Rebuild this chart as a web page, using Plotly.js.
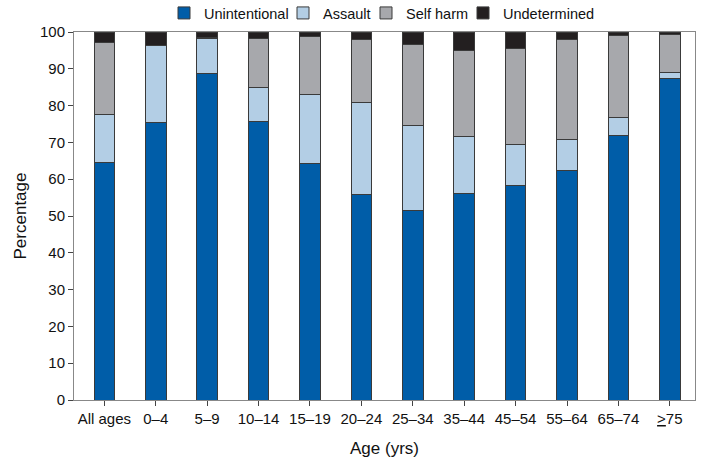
<!DOCTYPE html>
<html>
<head>
<meta charset="utf-8">
<script src="https://cdn.plot.ly/plotly-3.0.1.min.js"></script>
<style>html,body{margin:0;padding:0;background:#fff;}#chart{width:704px;height:459px;}</style>
</head>
<body>
<div id="chart"></div>
<script>
const categories = ["All ages","0–4","5–9","10–14","15–19","20–24","25–34","35–44","45–54","55–64","65–74","<u>></u>75"];
const unintentional = [64.5, 75.5, 88.8, 75.7, 64.3, 55.9, 51.5, 56.0, 58.3, 62.4, 71.8, 87.5];
const assault       = [13.2, 20.7,  9.4,  9.2, 18.7, 24.9, 23.2, 15.5, 11.1,  8.5,  4.9,  1.5];
const selfHarm      = [19.5,  0.0,  0.3, 13.3, 15.7, 17.1, 22.0, 23.4, 26.1, 27.1, 22.3, 10.4];
const undetermined  = [ 2.8,  3.8,  1.5,  1.8,  1.3,  2.1,  3.3,  5.1,  4.5,  2.0,  1.0,  0.6];
const seriesNames = ["Unintentional","Assault","Self harm","Undetermined"];
const seriesColors = ["#005DA8","#B3CEE5","#A7A8AC","#231F20"];
const seriesValues = [unintentional, assault, selfHarm, undetermined];
const legendIds = ["legend","legend2","legend3","legend4"];

const W = 704, H = 459;
const traces = seriesValues.map((vals, i) => ({
  type: 'bar',
  name: seriesNames[i],
  x: categories,
  y: vals,
  legend: legendIds[i],
  marker: {color: seriesColors[i], line: {color: '#3a3a3a', width: 1}},
  hoverinfo: 'x+y+name'
}));

// left pixel of each legend box (square sits ~14px to the right)
const legendLeftPx = [164, 283, 366, 463];
const legendBase = {orientation: 'h', xref: 'container', yref: 'container',
  xanchor: 'left', yanchor: 'middle', y: 1 - 13 / H,
  font: {size: 14.5, color: '#111'}, itemwidth: 30, bgcolor: 'rgba(0,0,0,0)', borderwidth: 0};

const layout = {
  width: W, height: H,
  barmode: 'stack',
  bargap: 0.6,
  margin: {l: 74, r: 9, t: 32, b: 59, autoexpand: false},
  paper_bgcolor: '#fff', plot_bgcolor: '#fff',
  font: {family: 'Liberation Sans, Arial, sans-serif', size: 15, color: '#111'},
  showlegend: true,
  xaxis: {
    type: 'category',
    range: [-0.59, 11.49],
    showline: true, linecolor: '#888', linewidth: 1, mirror: true,
    ticks: 'outside', ticklen: 5, tickcolor: '#444',
    showgrid: false, zeroline: false,
    tickfont: {size: 15},
    title: {text: 'Age (yrs)', font: {size: 17}, standoff: 16}
  },
  yaxis: {
    range: [0, 100],
    tickvals: [0,10,20,30,40,50,60,70,80,90,100],
    showline: true, linecolor: '#888', linewidth: 1, mirror: true,
    ticks: 'outside', ticklen: 5, tickcolor: '#444',
    showgrid: false, zeroline: false,
    tickfont: {size: 15},
    title: {text: 'Percentage', font: {size: 17}, standoff: 9}
  }
};
legendIds.forEach((id, i) => {
  layout[id] = Object.assign({}, legendBase, {x: legendLeftPx[i] / W});
});

Plotly.newPlot('chart', traces, layout, {displayModeBar: false, staticPlot: true});
</script>
</body>
</html>
